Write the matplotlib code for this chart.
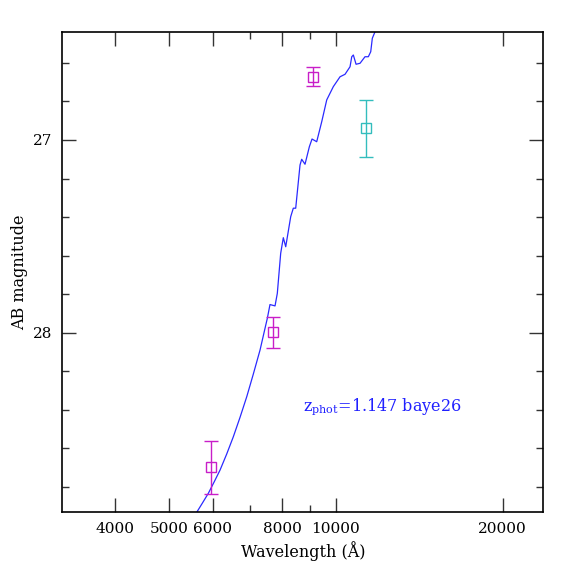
import matplotlib
matplotlib.use("Agg")
import matplotlib.pyplot as plt
from matplotlib.ticker import FixedLocator, NullFormatter

# Model spectrum (wavelength in Angstrom, AB magnitude)
spec_wave = [5343, 5609, 5741, 5888, 6027, 6180, 6355, 6531, 6716, 6906, 7098,
             7298, 7451, 7523, 7606, 7767, 7841,
             7952, 8039, 8120, 8290, 8380, 8464, 8617, 8677, 8798, 8958, 9058,
             9236, 9431, 9629, 9897, 10176, 10390, 10608, 10684, 10755, 10877,
             11058, 11289, 11447, 11561, 11638, 11771, 11918]
spec_mag = [29.029, 28.932, 28.885, 28.833, 28.776, 28.713, 28.629, 28.540,
            28.439, 28.332, 28.214, 28.090, 27.977, 27.925,
            27.854, 27.861, 27.796, 27.588, 27.507, 27.554, 27.398, 27.354,
            27.354, 27.130, 27.100, 27.126, 27.035, 26.995, 27.009, 26.905,
            26.792, 26.723, 26.672, 26.659, 26.620, 26.568, 26.559, 26.607,
            26.602, 26.568, 26.568, 26.542, 26.472, 26.438, 26.419]

# Photometry
phot_wave = [5946, 7712, 9085]
phot_mag = [28.699, 27.998, 26.6715]
phot_err = [0.138, 0.080, 0.050]

ir_wave = [11336]
ir_mag = [26.939]
ir_err = [0.148]

xticks = [4000, 5000, 6000, 8000, 10000, 20000]
xminor = [7000, 9000]
yticks = [27, 28]
yminor = [26.6, 26.8, 27.2, 27.4, 27.6, 27.8, 28.2, 28.4, 28.6, 28.8]

label_text = r"z$_{\rm phot}$=1.147 baye26"

plt.rcParams['font.family'] = ['DejaVu Serif']
plt.rcParams['mathtext.fontset'] = 'dejavuserif'

fig = plt.figure(figsize=(5.74, 5.74), dpi=100)
ax = fig.add_axes([0.1085, 0.1075, 0.838, 0.8373])

ax.plot(spec_wave, spec_mag, color='#2a2aff', lw=0.9, zorder=2)

magenta = '#c81ec8'
cyan = '#33bdbd'
ax.errorbar(phot_wave, phot_mag, yerr=phot_err, fmt='s', mfc='none', mec=magenta,
            ecolor=magenta, ms=7.2, mew=1.0, elinewidth=1.0, capsize=4.8, capthick=1.0,
            zorder=3)
ax.errorbar(ir_wave, ir_mag, yerr=ir_err, fmt='s', mfc='none', mec=cyan,
            ecolor=cyan, ms=7.2, mew=1.0, elinewidth=1.0, capsize=4.8, capthick=1.0,
            zorder=3)

ax.set_xscale('log')
ax.set_xlim(3208, 23685)
ax.set_ylim(28.932, 26.438)

ax.xaxis.set_major_locator(FixedLocator(xticks))
ax.xaxis.set_minor_locator(FixedLocator(xminor))
ax.set_xticklabels([str(t) for t in xticks])
ax.xaxis.set_minor_formatter(NullFormatter())
ax.yaxis.set_major_locator(FixedLocator(yticks))
ax.yaxis.set_minor_locator(FixedLocator(yminor))
ax.set_yticklabels([str(t) for t in yticks])

ax.tick_params(which='both', direction='in', top=True, right=True,
               labelsize=11, color='#333333', width=1.0)
ax.tick_params(which='major', length=10, pad=7)
ax.tick_params(which='minor', length=5)
for s in ax.spines.values():
    s.set_linewidth(1.2)

ax.set_xlabel("Wavelength (Å)", fontsize=11.5, labelpad=4)
ax.set_ylabel("AB magnitude", fontsize=11.5, labelpad=4)

ax.text(0.4995, 0.2117, label_text, transform=ax.transAxes, color='#2020ff',
        fontsize=11.5, ha='left', va='baseline')

fig.savefig("out.png", dpi=100)
